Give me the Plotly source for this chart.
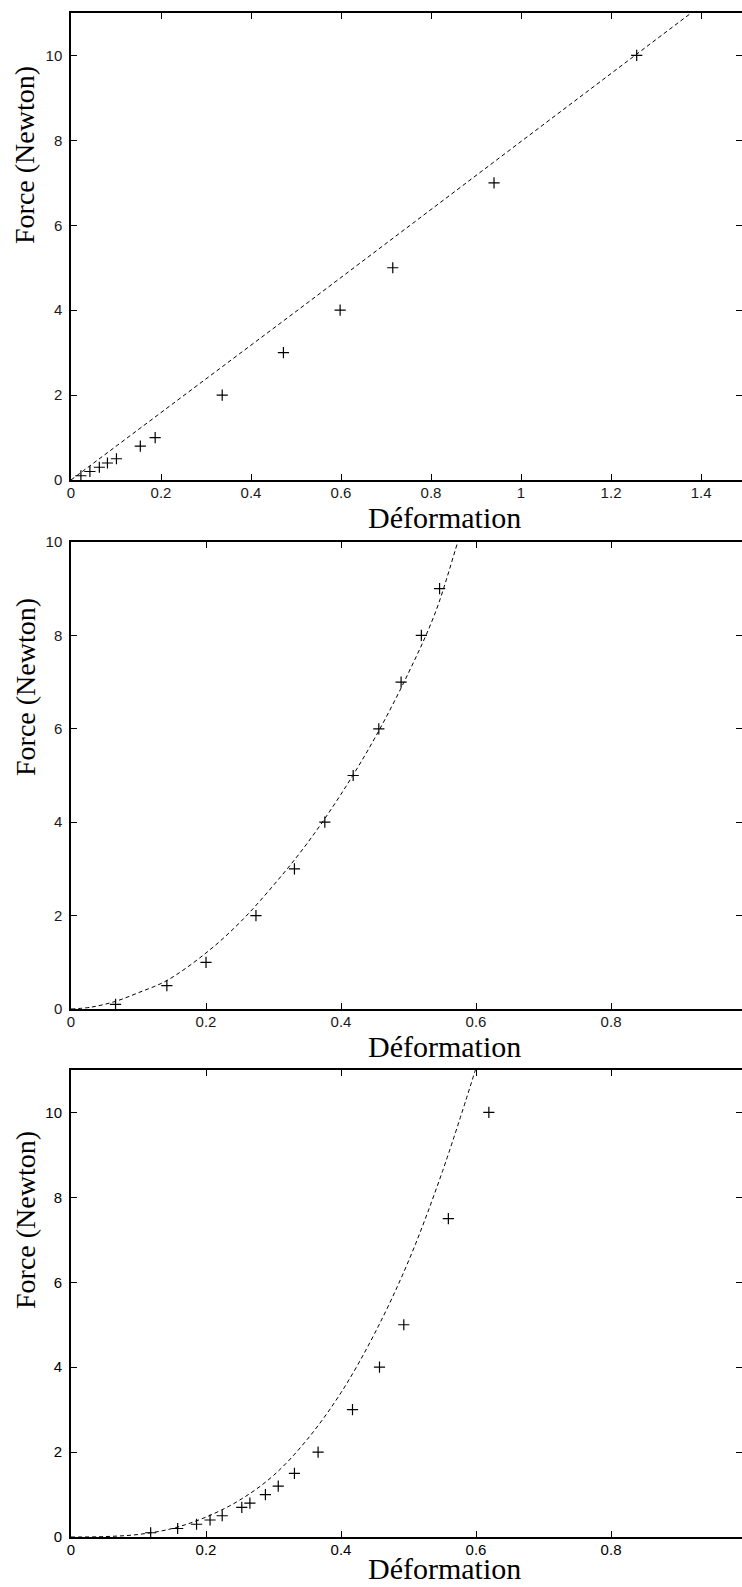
import plotly.graph_objs as go

# panel 1 : measurements and fitted curve
p1_x = [0.022, 0.042, 0.063, 0.081, 0.101, 0.154, 0.187, 0.336, 0.472, 0.598, 0.715, 0.940, 1.257]
p1_y = [0.1, 0.2, 0.3, 0.4, 0.5, 0.8, 1.0, 2.0, 3.0, 4.0, 5.0, 7.0, 10.0]
p1_fit_x = [0, 0.1, 0.2, 0.3, 0.4, 0.5, 0.6, 0.7, 0.8, 0.9, 1.0, 1.1, 1.2, 1.3, 1.378]
p1_fit_y = [0, 0.79, 1.58, 2.37, 3.17, 3.97, 4.77, 5.57, 6.37, 7.17, 7.97, 8.77, 9.58, 10.39, 11.0]

# panel 2
p2_x = [0.066, 0.142, 0.200, 0.274, 0.331, 0.376, 0.418, 0.456, 0.489, 0.519, 0.546]
p2_y = [0.1, 0.5, 1.0, 2.0, 3.0, 4.0, 5.0, 6.0, 7.0, 8.0, 9.0]
p2_fit_x = [0, 0.03, 0.065, 0.1, 0.142, 0.2, 0.25, 0.3, 0.35, 0.4, 0.45, 0.5, 0.54, 0.573, 0.58]
p2_fit_y = [0, 0.04, 0.16, 0.35, 0.61, 1.2, 1.85, 2.65, 3.55, 4.6, 5.8, 7.2, 8.5, 10.0, 10.3]

# panel 3
p3_x = [0.118, 0.158, 0.186, 0.206, 0.224, 0.253, 0.265, 0.288, 0.307, 0.331, 0.366, 0.417, 0.457, 0.493, 0.559, 0.619]
p3_y = [0.1, 0.2, 0.3, 0.4, 0.5, 0.7, 0.8, 1.0, 1.2, 1.5, 2.0, 3.0, 4.0, 5.0, 7.5, 10.0]
p3_fit_x = [0, 0.05, 0.1, 0.15, 0.2, 0.25, 0.3, 0.35, 0.4, 0.45, 0.5, 0.55, 0.599]
p3_fit_y = [0, 0.01, 0.06, 0.2, 0.47, 0.87, 1.45, 2.3, 3.4, 4.8, 6.5, 8.6, 11.0]

W, H = 742, 1587
plot_left = 71

# pixel boxes of the three panels (top, bottom)
panels = [(13, 480), (542, 1009), (1070, 1537)]
xranges = [[0, 1.491], [0, 0.994], [0, 0.994]]
yranges = [[0, 11], [0, 10], [0, 11]]
line_w = [1.5, 1.5, 2]
tick_col = ["#1a1a1a", "#1a1a1a", "black"]
xtitle_y = [518, 1046, 1587]
xtitle_anchor = ["middle", "middle", "bottom"]
ytitle_y = [155, 687, 1220]
spline = ["linear", "spline", "spline"]

fig = go.Figure()

series = [(p1_x, p1_y, p1_fit_x, p1_fit_y),
          (p2_x, p2_y, p2_fit_x, p2_fit_y),
          (p3_x, p3_y, p3_fit_x, p3_fit_y)]

for i, (px, py, fx, fy) in enumerate(series):
    n = "" if i == 0 else str(i + 1)
    fig.add_trace(go.Scatter(
        x=fx, y=fy, mode="lines",
        line=dict(color="black", width=1, dash="4px,3px", shape=spline[i]),
        xaxis="x" + n, yaxis="y" + n, showlegend=False))
    fig.add_trace(go.Scatter(
        x=px, y=py, mode="markers",
        marker=dict(symbol="cross-thin", size=8, line=dict(color="black", width=1.2)),
        xaxis="x" + n, yaxis="y" + n, showlegend=False))
    # empty trace so the right-hand tick axis exists
    fig.add_trace(go.Scatter(x=[], y=[], xaxis="x" + n, yaxis="y" + str(i + 4),
                             hoverinfo="skip", showlegend=False))

layout = dict(
    width=W, height=H, margin=dict(l=0, r=0, t=0, b=0, autoexpand=False),
    paper_bgcolor="white", plot_bgcolor="white", showlegend=False,
)

for i, (top, bot) in enumerate(panels):
    n = "" if i == 0 else str(i + 1)
    dom_y = [1 - bot / H, 1 - top / H]
    tickfont = dict(family="Liberation Sans, Arial, sans-serif", size=15, color=tick_col[i])
    layout["xaxis" + n] = dict(
        domain=[plot_left / W, 1], range=xranges[i], anchor="y" + n, automargin=False,
        dtick=0.2, tick0=0, ticks="inside", ticklen=6, tickwidth=1, tickcolor="black",
        showline=True, linecolor="black", linewidth=line_w[i], mirror="ticks",
        showgrid=False, zeroline=False, tickfont=tickfont, ticklabelstandoff=-2)
    layout["yaxis" + n] = dict(
        domain=dom_y, range=yranges[i], anchor="x" + n, automargin=False,
        dtick=2, tick0=0, ticks="inside", ticklen=6, tickwidth=1, tickcolor="black",
        showline=True, linecolor="black", linewidth=line_w[i], mirror=False,
        showgrid=False, zeroline=False, tickfont=tickfont, ticklabelstandoff=4)
    # right side: ticks only, the frame is cut off at the page edge
    layout["yaxis" + str(i + 4)] = dict(
        overlaying="y" + n, side="right", anchor="x" + n, range=yranges[i], automargin=False,
        dtick=2, tick0=0, ticks="inside", ticklen=6, tickwidth=1, tickcolor="black",
        showticklabels=False, showline=False, showgrid=False, zeroline=False)

serif = "Liberation Serif, Times New Roman, serif"
annotations = []
for i in range(3):
    annotations.append(dict(
        text="Déformation", x=(plot_left + 373) / W, y=1 - xtitle_y[i] / H,
        xref="paper", yref="paper", xanchor="center", yanchor=xtitle_anchor[i], showarrow=False,
        font=dict(family=serif, size=30, color="black")))
    annotations.append(dict(
        text="Force (Newton)", x=25 / W, y=1 - ytitle_y[i] / H, textangle=-90,
        xref="paper", yref="paper", xanchor="center", yanchor="middle", showarrow=False,
        font=dict(family=serif, size=28, color="black")))
layout["annotations"] = annotations

fig.update_layout(**layout)
# the page body has an 8px default margin; drop it so the figure fills the window
fig.write_html("out.html", config={"displayModeBar": False},
               post_script="document.body.style.margin='0';"
                           "document.documentElement.style.overflow='hidden';")
